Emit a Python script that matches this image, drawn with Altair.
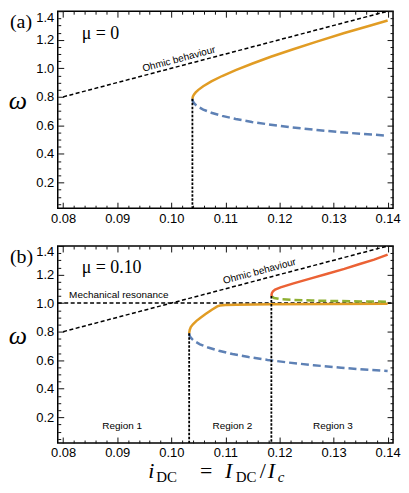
import altair as alt
import pandas as pd

# ---------------- data ----------------
ohmic_x = [0.08, 0.14]
ohmic_y = [0.80, 1.40]

mech_x = [0.079, 0.141]
mech_y = [1.0, 1.0]

a_orange_x = [0.1039, 0.1040, 0.1042, 0.1045, 0.1050, 0.1059, 0.1074, 0.1094, 0.1119, 0.1149, 0.1184, 0.1224, 0.1269, 0.1320, 0.1370, 0.1400]
a_orange_y = [0.786, 0.803, 0.817, 0.831, 0.849, 0.874, 0.908, 0.946, 0.987, 1.032, 1.081, 1.132, 1.187, 1.247, 1.302, 1.335]

a_blue_x = [0.1039, 0.1040, 0.1042, 0.1045, 0.1050, 0.1059, 0.1074, 0.1094, 0.1119, 0.1149, 0.1184, 0.1224, 0.1269, 0.1320, 0.1370, 0.1400]
a_blue_y = [0.786, 0.769, 0.756, 0.744, 0.730, 0.711, 0.689, 0.667, 0.645, 0.624, 0.605, 0.586, 0.568, 0.550, 0.536, 0.528]

a_vline_x = [0.1039]
a_vline_top = [0.786]

b_orange_x = [0.1033, 0.1034, 0.1036, 0.1040, 0.1046, 0.1054, 0.1064, 0.1075, 0.1085, 0.1090, 0.1100, 0.1120, 0.1185, 0.1300, 0.1400]
b_orange_y = [0.789, 0.812, 0.832, 0.852, 0.874, 0.898, 0.925, 0.954, 0.977, 0.983, 0.986, 0.989, 0.992, 0.994, 0.995]

b_blue_x = [0.1033, 0.1034, 0.1036, 0.1039, 0.1044, 0.1053, 0.1068, 0.1088, 0.1113, 0.1143, 0.1178, 0.1218, 0.1263, 0.1314, 0.1364, 0.1400]
b_blue_y = [0.789, 0.771, 0.758, 0.746, 0.731, 0.711, 0.689, 0.666, 0.643, 0.622, 0.602, 0.583, 0.565, 0.547, 0.533, 0.525]

b_red_x = [0.1185, 0.1186, 0.1188, 0.1192, 0.1202, 0.1226, 0.1260, 0.1287, 0.1320, 0.1347, 0.1375, 0.1400]
b_red_y = [1.050, 1.070, 1.082, 1.095, 1.110, 1.138, 1.175, 1.204, 1.240, 1.272, 1.305, 1.340]

b_green_x = [0.1185, 0.1190, 0.1202, 0.1226, 0.1260, 0.1300, 0.1350, 0.1400]
b_green_y = [1.050, 1.036, 1.028, 1.022, 1.018, 1.015, 1.012, 1.010]

b_vline_x = [0.1033, 0.1185]
b_vline_top = [0.789, 1.050]

panel_tags = ["(a)", "(b)"]
mu_labels = ["μ = 0", "μ = 0.10"]
ohmic_label = ["Ohmic behaviour"]
a_ohmic_label_pos = [0.1014, 1.064]
b_ohmic_label_pos = [0.1163, 1.222]
mech_label = ["Mechanical resonance"]
mech_label_pos = [0.0811, 1.056]
region_names = ["Region 1", "Region 2", "Region 3"]
region_x = [0.0909, 0.1113, 0.1299]
region_y = [0.138, 0.138, 0.138]

x_major = [0.08, 0.09, 0.10, 0.11, 0.12, 0.13, 0.14]
x_minor = [0.082, 0.084, 0.086, 0.088, 0.092, 0.094, 0.096, 0.098,
           0.102, 0.104, 0.106, 0.108, 0.112, 0.114, 0.116, 0.118,
           0.122, 0.124, 0.126, 0.128, 0.132, 0.134, 0.136, 0.138]
y_major = [0.2, 0.4, 0.6, 0.8, 1.0, 1.2, 1.4]
y_minor = [0.05, 0.1, 0.15, 0.25, 0.3, 0.35, 0.45, 0.5, 0.55, 0.65, 0.7, 0.75,
           0.85, 0.9, 0.95, 1.05, 1.1, 1.15, 1.25, 1.3, 1.35]

# ---------------- style ----------------
W, H = 337, 198
XD = [0.079, 0.141]
YD = [0.02, 1.4]
ORANGE = "#E19C24"
BLUE = "#5E81B5"
GREEN = "#8FB032"
RED = "#EB6235"
SANS = "Liberation Sans"
SERIF = "Liberation Serif"

xs = alt.Scale(domain=XD, nice=False, zero=False)
ys = alt.Scale(domain=YD, nice=False, zero=False)


def lab_axis(orient, vals, fmt, flush=False):
    kw = dict(orient=orient, values=vals, format=fmt, labelFont=SANS, labelFontSize=13,
              labelColor="black", ticks=False, domain=False, grid=False, title=None,
              labelPadding=4)
    if flush:
        kw["labelFlush"] = True
    return alt.Axis(**kw)


def tick_axis(orient, vals, size):
    return alt.Axis(orient=orient, values=vals, labels=False, domain=False, grid=False,
                    title=None, ticks=True, tickSize=size, offset=-size,
                    tickColor="#111", tickWidth=1)


AXES = [
    (lab_axis("bottom", x_major, ".2f"), lab_axis("left", y_major, ".1f", flush=True)),
    (tick_axis("bottom", x_major, 6), tick_axis("left", y_major, 6)),
    (tick_axis("bottom", x_minor, 3), tick_axis("left", y_minor, 3)),
    (tick_axis("top", x_major, 6), tick_axis("right", y_major, 6)),
    (tick_axis("top", x_minor, 3), tick_axis("right", y_minor, 3)),
]


def enc(k=None):
    if k is None:
        ax, ay = None, None
    else:
        ax, ay = AXES[k]
    return dict(x=alt.X("x:Q", scale=xs, axis=ax), y=alt.Y("y:Q", scale=ys, axis=ay))


def line(xv, yv, color, width, dash=None, k=None):
    df = pd.DataFrame({"x": xv, "y": yv})
    kw = dict(color=color, strokeWidth=width, clip=True)
    if dash:
        kw["strokeDash"] = dash
    return alt.Chart(df).mark_line(**kw).encode(**enc(k))


def vlines(xv, tops, k=None):
    df = pd.DataFrame({"x": xv, "y": tops})
    e = enc(k)
    return alt.Chart(df).mark_rule(color="black", strokeWidth=1.8, strokeDash=[2.5, 1.5]).encode(
        x=e["x"], y=e["y"], y2=alt.value(H))


def data_text(label, pos, k=None, angle=0, align="center"):
    df = pd.DataFrame({"x": [pos[0]], "y": [pos[1]], "t": label})
    kw = dict(font=SANS, fontSize=10, color="black", align=align, baseline="middle")
    if angle:
        kw["angle"] = angle
    return alt.Chart(df).mark_text(**kw).encode(text="t:N", **enc(k))


def px_text(label, px, py, size, font=SERIF, style="normal", align="left", baseline="alphabetic"):
    df = pd.DataFrame({"t": [label]})
    return alt.Chart(df).mark_text(font=font, fontSize=size, fontStyle=style, color="black",
                                   align=align, baseline=baseline).encode(
        text="t:N", x=alt.value(px), y=alt.value(py))


# ---------------- panel (a) ----------------
panel_a = alt.layer(
    line(ohmic_x, ohmic_y, "black", 1.5, [4, 2.5], k=0),
    line(a_blue_x, a_blue_y, BLUE, 2.5, [8, 4], k=2),
    line(a_orange_x, a_orange_y, ORANGE, 2.5, k=1),
    vlines(a_vline_x, a_vline_top, k=3),
    data_text(ohmic_label, a_ohmic_label_pos, k=4, angle=345),
    px_text(mu_labels[0], 24, 28, 18),
    px_text(panel_tags[0], -48, 1, 20, baseline="top"),
    px_text("ω", -40, 90, 26, style="italic", align="center", baseline="middle"),
).resolve_axis(x="independent", y="independent").properties(width=W, height=H)

# ---------------- panel (b) ----------------
TB = H + 35
title_parts = [
    ("i", 91, TB, 22, "italic"),
    ("DC", 99, TB + 4, 15, "normal"),
    ("=", 143, TB, 22, "normal"),
    ("I", 168, TB, 22, "italic"),
    ("DC", 179, TB + 4, 15, "normal"),
    ("/", 203, TB, 22, "normal"),
    ("I", 211, TB, 22, "italic"),
    ("c", 221, TB + 4, 15, "italic"),
]

panel_b_layers = [
    line(ohmic_x, ohmic_y, "black", 1.5, [4, 2.5], k=0),
    line(mech_x, mech_y, "black", 1.5, [4, 2.5]),
    line(b_blue_x, b_blue_y, BLUE, 2.5, [8, 4], k=2),
    line(b_orange_x, b_orange_y, ORANGE, 2.5, k=1),
    line(b_green_x, b_green_y, GREEN, 2.5, [8, 4]),
    line(b_red_x, b_red_y, RED, 2.5),
    vlines(b_vline_x, b_vline_top, k=3),
    data_text(ohmic_label, b_ohmic_label_pos, k=4, angle=345),
    data_text(mech_label, mech_label_pos, align="left"),
    alt.Chart(pd.DataFrame({"x": region_x, "y": region_y, "t": region_names})).mark_text(
        font=SANS, fontSize=10, color="black", baseline="middle").encode(text="t:N", **enc()),
    px_text(mu_labels[1], 24, 27, 18),
    px_text(panel_tags[1], -48, 1, 20, baseline="top"),
    px_text("ω", -40, 90, 26, style="italic", align="center", baseline="middle"),
]
for t, px, py, size, style in title_parts:
    panel_b_layers.append(px_text(t, px, py, size, style=style))

panel_b = alt.layer(*panel_b_layers).resolve_axis(
    x="independent", y="independent").properties(width=W, height=H)

chart = alt.vconcat(panel_a, panel_b, spacing=18).properties(
    padding={"left": 0, "top": 0, "right": 0, "bottom": 0}
).configure_view(stroke="black", strokeWidth=1.5)

chart.save("out.html", embed_options={"renderer": "svg", "actions": False})
